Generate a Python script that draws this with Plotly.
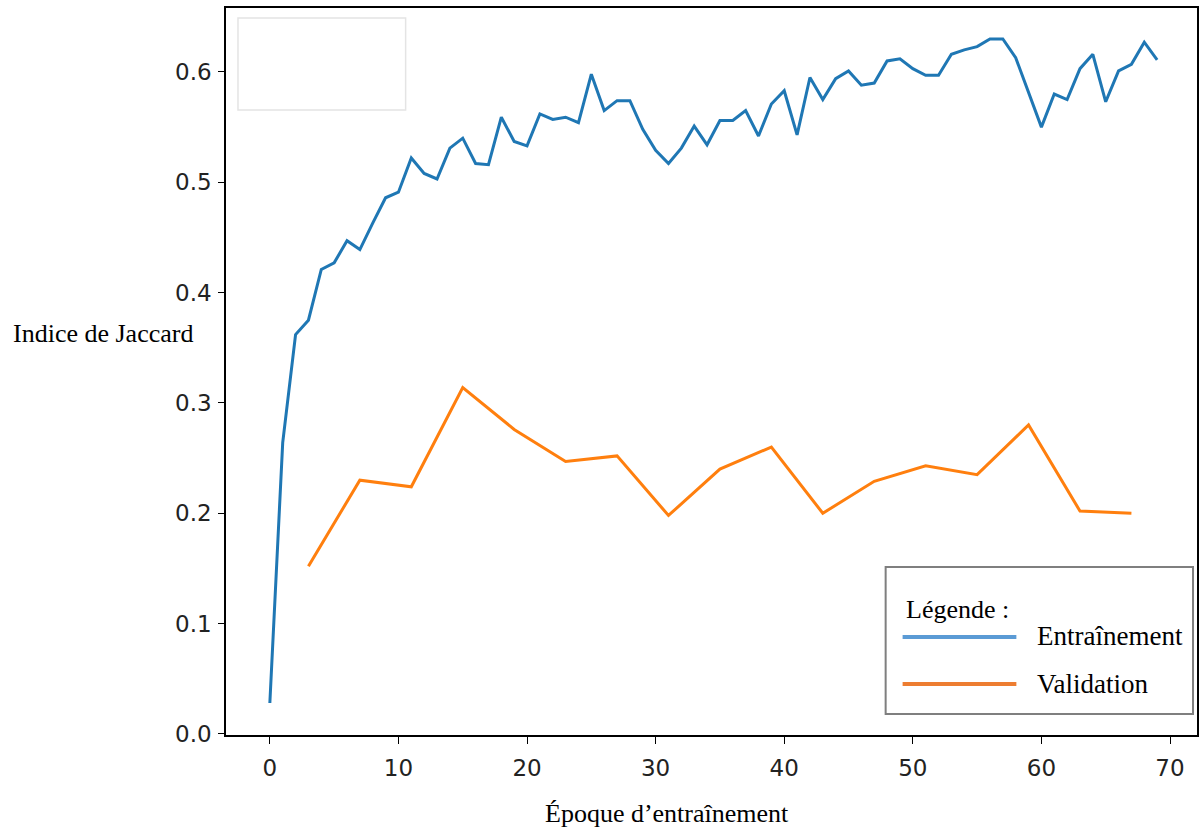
import plotly.graph_objects as go

# ---- data ----
train_epochs = list(range(70))
train_jaccard = [
    0.028, 0.264, 0.362, 0.375, 0.421, 0.427, 0.447, 0.439, 0.463, 0.486,
    0.491, 0.522, 0.508, 0.503, 0.531, 0.540, 0.517, 0.516, 0.559, 0.537,
    0.533, 0.562, 0.557, 0.559, 0.554, 0.598, 0.565, 0.574, 0.574, 0.548,
    0.529, 0.517, 0.531, 0.551, 0.534, 0.556, 0.556, 0.565, 0.542, 0.571,
    0.583, 0.543, 0.595, 0.575, 0.594, 0.601, 0.588, 0.590, 0.610, 0.612,
    0.603, 0.597, 0.597, 0.616, 0.620, 0.623, 0.630, 0.630, 0.613, 0.581,
    0.550, 0.580, 0.575, 0.603, 0.616, 0.573, 0.601, 0.607, 0.627, 0.611,
]
val_epochs = [3, 7, 11, 15, 19, 23, 27, 31, 35, 39, 43, 47, 51, 55, 59, 63, 67]
val_jaccard = [0.152, 0.230, 0.224, 0.314, 0.276, 0.247, 0.252, 0.198,
               0.240, 0.260, 0.200, 0.229, 0.243, 0.235, 0.280, 0.202, 0.200]

x_ticks = [0, 10, 20, 30, 40, 50, 60, 70]
y_ticks = [0.0, 0.1, 0.2, 0.3, 0.4, 0.5, 0.6]
y_tick_text = ["0.0", "0.1", "0.2", "0.3", "0.4", "0.5", "0.6"]

x_title = "Époque d’entraînement"
y_title = "Indice de Jaccard"
legend_title = "Légende :"
legend_labels = ["Entraînement", "Validation"]

BLUE = "#1f77b4"
ORANGE = "#ff7f0e"
LEG_BLUE = "#5b9bd5"
LEG_ORANGE = "#ed7d31"
SERIF = "Liberation Serif, Times New Roman, serif"
SANS = "DejaVu Sans, sans-serif"

fig = go.Figure()
fig.add_trace(go.Scatter(x=train_epochs, y=train_jaccard, mode="lines",
                         line=dict(color=BLUE, width=3), showlegend=False,
                         name=legend_labels[0]))
fig.add_trace(go.Scatter(x=val_epochs, y=val_jaccard, mode="lines",
                         line=dict(color=ORANGE, width=3), showlegend=False,
                         name=legend_labels[1]))

# geometry: plot area from x=226..1199 px, y=8..735 px
L, R, T, B = 226, 2, 8, 93
W = 1201 - L - R
H = 828 - T - B

def px(xp):
    return (xp - L) / W

def py(yp):
    return (T + H - yp) / H

fig.update_layout(
    width=1201, height=828,
    margin=dict(l=L, r=R, t=T, b=B),
    paper_bgcolor="white", plot_bgcolor="white",
    xaxis=dict(range=[-3.41, 72.1], tickvals=x_ticks, ticks="outside", ticklen=7,
               tickwidth=1.3, tickcolor="black", showline=True, linecolor="black",
               linewidth=1.5, mirror=True, showgrid=False, zeroline=False,
               tickfont=dict(family=SANS, size=23, color="#222222"),
               ticklabelstandoff=5),
    yaxis=dict(range=[-0.001, 0.658], tickvals=y_ticks, ticktext=y_tick_text,
               ticks="outside", ticklen=6, tickwidth=1.3, tickcolor="black",
               showline=True, linecolor="black", linewidth=1.5, mirror=True,
               showgrid=False, zeroline=False,
               tickfont=dict(family=SANS, size=23, color="#222222"),
               ticklabelstandoff=2),
)

annotations = [
    dict(text=y_title, x=px(11), y=py(333), xref="paper", yref="paper",
         xanchor="left", yanchor="middle", showarrow=False,
         font=dict(family=SERIF, size=26, color="black")),
    dict(text=x_title, x=px(668), y=py(813), xref="paper", yref="paper",
         xanchor="center", yanchor="middle", showarrow=False,
         font=dict(family=SERIF, size=26, color="black")),
    dict(text=legend_title, x=px(905), y=py(609), xref="paper", yref="paper",
         xanchor="left", yanchor="middle", showarrow=False,
         font=dict(family=SERIF, size=26, color="black")),
    dict(text=legend_labels[0], x=px(1037), y=py(636), xref="paper", yref="paper",
         xanchor="left", yanchor="middle", showarrow=False,
         font=dict(family=SERIF, size=27, color="black")),
    dict(text=legend_labels[1], x=px(1037), y=py(684), xref="paper", yref="paper",
         xanchor="left", yanchor="middle", showarrow=False,
         font=dict(family=SERIF, size=27, color="black")),
]
fig.update_layout(annotations=annotations)

shapes = [
    # faint empty box top-left
    dict(type="rect", xref="paper", yref="paper", x0=px(238), x1=px(406),
         y0=py(110), y1=py(18), line=dict(color="#e4e4e4", width=1.5),
         fillcolor="white", layer="below"),
    # legend box
    dict(type="rect", xref="paper", yref="paper", x0=px(887), x1=px(1195),
         y0=py(714), y1=py(567), line=dict(color="#7f7f7f", width=2),
         fillcolor="white", layer="above"),
    dict(type="line", xref="paper", yref="paper", x0=px(904), x1=px(1018),
         y0=py(637), y1=py(637), line=dict(color=LEG_BLUE, width=4)),
    dict(type="line", xref="paper", yref="paper", x0=px(904), x1=px(1018),
         y0=py(684), y1=py(684), line=dict(color=LEG_ORANGE, width=4)),
]
fig.update_layout(shapes=shapes)

fig.write_html("out.html")
